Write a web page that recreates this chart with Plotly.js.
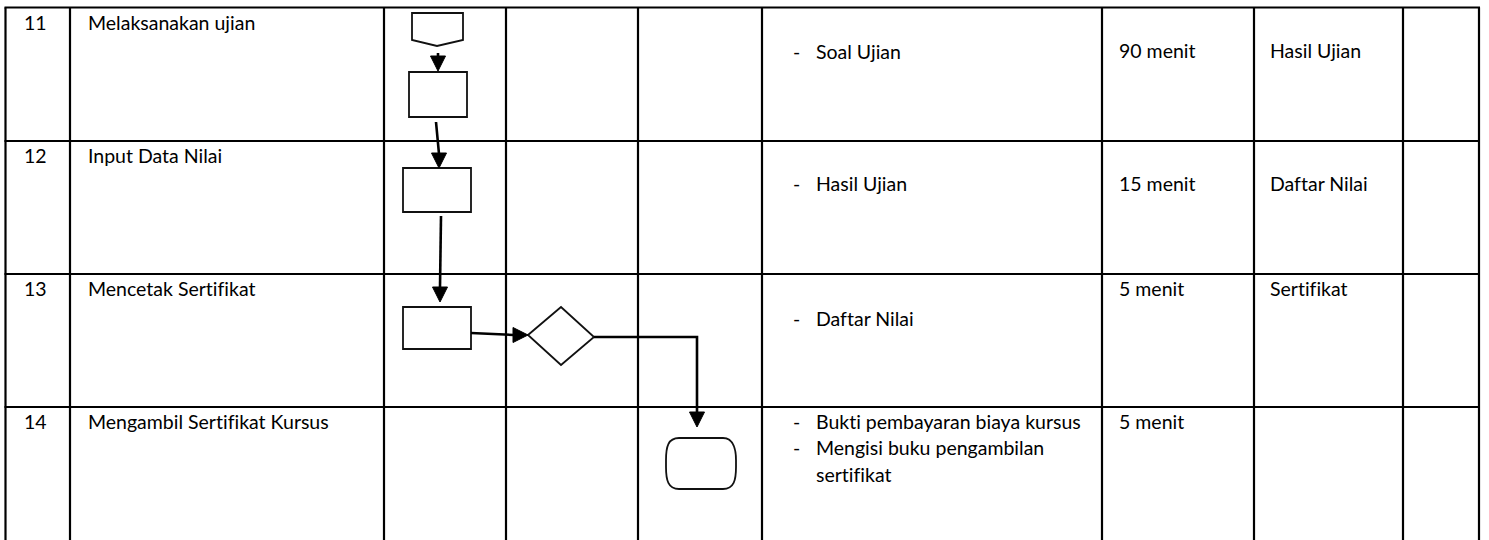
<!DOCTYPE html>
<html><head><meta charset="utf-8">
<script src="https://cdn.plot.ly/plotly-3.0.1.min.js"></script>
<style>html,body{margin:0;padding:0;background:#fff;overflow:hidden}#chart{width:1489px;height:540px}text{font-variant-ligatures:none;font-feature-settings:"liga" 0}</style>
</head><body><div id="chart"></div>
<script>
// ---------- DATA ----------
const stepNumbers = ['11', '12', '13', '14'];
const activities = ['Melaksanakan ujian', 'Input Data Nilai', 'Mencetak Sertifikat', 'Mengambil Sertifikat Kursus'];
const inputItems = [
  ['Soal Ujian'],
  ['Hasil Ujian'],
  ['Daftar Nilai'],
  ['Bukti pembayaran biaya kursus', 'Mengisi buku pengambilan<br>sertifikat']
];
const durations = ['90 menit', '15 menit', '5 menit', '5 menit'];
const outputs = ['Hasil Ujian', 'Daftar Nilai', 'Sertifikat', ''];
// flow nodes: step row index, swim-lane index, symbol type
const flowNodes = [
  {id: 'conn', row: 0, lane: 0, type: 'offpage'},
  {id: 'p11',  row: 0, lane: 0, type: 'process'},
  {id: 'p12',  row: 1, lane: 0, type: 'process'},
  {id: 'p13',  row: 2, lane: 0, type: 'process'},
  {id: 'd13',  row: 2, lane: 1, type: 'decision'},
  {id: 't14',  row: 3, lane: 2, type: 'terminator'}
];
const flowEdges = [['conn', 'p11'], ['p11', 'p12'], ['p12', 'p13'], ['p13', 'd13'], ['d13', 't14']];

// ---------- LAYOUT (positions / styles) ----------
const W = 1489, H = 540;
const colEdges = [5.5, 70, 384, 506, 638, 762, 1102, 1254, 1403, 1479];
const rowEdges = [7.5, 141, 274, 407, 560];
const FONT = {family: 'Lato, "Open Sans", sans-serif', size: 19.5, color: '#000'};
const GRID = {color: '#000', width: 2.2};
const LINE_STEP = 26.5;
// baseline offsets from row top
const baseFirst = [21.5, 21.5, 21.5, 21.5];
const baseInput = [50.5, 49, 51, 21];
const baseRight = [49.5, 49, 21, 21];
// node geometry relative to lane left / row top
const nodeGeom = {
  conn: {dx0: 28, dx1: 79, dy0: 5.5, dySide: 32.5, dyTip: 38.5, tipDx: 53},
  p11:  {dx0: 25, dx1: 83, dy0: 64.5, dy1: 109.5},
  p12:  {dx0: 19, dx1: 87, dy0: 27, dy1: 71},
  p13:  {dx0: 19, dx1: 87, dy0: 33, dy1: 75},
  d13:  {cx: 55, cy: 62, hw: 33, hh: 29},
  t14:  {dx0: 28, dx1: 98, dy0: 31, dy1: 82}
};
const laneX = i => colEdges[2 + i];
const rowY = i => rowEdges[i];

const shapes = [];
const annotations = [];
const lineColor = '#000';

// grid
colEdges.forEach(x => shapes.push({type: 'line', xref: 'x', yref: 'y', x0: x, x1: x, y0: rowEdges[0], y1: H + 5, line: GRID}));
rowEdges.slice(0, 4).forEach(y => shapes.push({type: 'line', xref: 'x', yref: 'y', x0: colEdges[0] - 1, x1: colEdges[colEdges.length - 1] + 1, y0: y, y1: y, line: GRID}));

// node shapes
const box = {};
flowNodes.forEach(n => {
  const g = nodeGeom[n.id], lx = laneX(n.lane), ty = rowY(n.row);
  let path;
  if (n.type === 'offpage') {
    const x0 = lx + g.dx0, x1 = lx + g.dx1, y0 = ty + g.dy0, ys = ty + g.dySide, yt = ty + g.dyTip, xt = lx + g.tipDx;
    path = `M${x0},${y0} L${x1},${y0} L${x1},${ys} L${xt},${yt} L${x0},${ys} Z`;
    box[n.id] = {x0, x1, y0, y1: yt, cx: xt, cy: (y0 + yt) / 2};
  } else if (n.type === 'process') {
    const x0 = lx + g.dx0, x1 = lx + g.dx1, y0 = ty + g.dy0, y1 = ty + g.dy1;
    path = `M${x0},${y0} L${x1},${y0} L${x1},${y1} L${x0},${y1} Z`;
    box[n.id] = {x0, x1, y0, y1, cx: (x0 + x1) / 2, cy: (y0 + y1) / 2};
  } else if (n.type === 'decision') {
    const cx = lx + g.cx, cy = ty + g.cy;
    path = `M${cx - g.hw},${cy - 1} L${cx},${cy - g.hh} L${cx + g.hw},${cy + 1} L${cx},${cy + g.hh} Z`;
    box[n.id] = {x0: cx - g.hw, x1: cx + g.hw, y0: cy - g.hh, y1: cy + g.hh, cx, cy};
  } else {
    const x0 = lx + g.dx0, x1 = lx + g.dx1, y0 = ty + g.dy0, y1 = ty + g.dy1, rx = 13, ry = 22;
    path = `M${x0 + rx},${y0} L${x1 - rx},${y0} C${x1 - 2},${y0} ${x1},${y0 + ry * 0.6} ${x1},${y0 + ry} L${x1},${y1 - ry} C${x1},${y1 - ry * 0.4} ${x1 - 2},${y1} ${x1 - rx},${y1} L${x0 + rx},${y1} C${x0 + 2},${y1} ${x0},${y1 - ry * 0.4} ${x0},${y1 - ry} L${x0},${y0 + ry} C${x0},${y0 + ry * 0.4} ${x0 + 2},${y0} ${x0 + rx},${y0} Z`;
    box[n.id] = {x0, x1, y0, y1, cx: (x0 + x1) / 2, cy: (y0 + y1) / 2};
  }
  shapes.push({type: 'path', xref: 'x', yref: 'y', path, line: {color: '#111', width: 1.8}, fillcolor: 'rgba(0,0,0,0)'});
});

// edges
const AH = 15, AW = 7.5;
function arrowHead(tx, ty, dir) {
  let p;
  if (dir === 'down') p = `M${tx},${ty} L${tx - AW},${ty - AH} L${tx + AW},${ty - AH} Z`;
  else p = `M${tx},${ty} L${tx - AH},${ty - AW} L${tx - AH},${ty + AW} Z`;
  shapes.push({type: 'path', xref: 'x', yref: 'y', path: p, line: {color: lineColor, width: 1}, fillcolor: lineColor});
}
flowEdges.forEach(([a, b], i) => {
  const A = box[a], B = box[b];
  let pts, dir;
  if (i === 0) { pts = [[A.cx + 1, A.y1 + 7], [A.cx + 1, B.y0 - 1]]; dir = 'down'; }
  else if (i === 1) { pts = [[A.cx - 2, A.y1 + 5], [B.cx + 2, B.y0]]; dir = 'down'; }
  else if (i === 2) { pts = [[A.cx + 4, A.y1 + 4], [B.cx + 3, B.y0 - 5]]; dir = 'down'; }
  else if (i === 3) { pts = [[A.x1, (A.y0 + A.y1) / 2 + 5], [B.x0, B.cy - 1]]; dir = 'right'; }
  else { pts = [[A.x1, A.cy + 1], [B.cx - 4, A.cy + 1], [B.cx - 4, B.y0 - 11]]; dir = 'down'; }
  const last = pts[pts.length - 1];
  const lp = pts.map((p, k) => {
    if (k === pts.length - 1) return (dir === 'down' ? `L${p[0]},${p[1] - AH + 1}` : `L${p[0] - AH + 1},${p[1]}`);
    return (k === 0 ? 'M' : 'L') + `${p[0]},${p[1]}`;
  }).join(' ');
  shapes.push({type: 'path', xref: 'x', yref: 'y', path: lp, line: {color: lineColor, width: 2.6}, fillcolor: 'rgba(0,0,0,0)'});
  arrowHead(last[0], last[1], dir);
});

// text
const asc = 0.99 * FONT.size + 1;
function txt(x, baseline, text) {
  annotations.push({x, y: baseline - asc, xref: 'x', yref: 'y', xanchor: 'left', yanchor: 'top', text, showarrow: false, align: 'left', font: FONT, borderpad: 1});
}
stepNumbers.forEach((s, r) => {
  txt(colEdges[0] + 16.5, rowY(r) + baseFirst[r], s);
  txt(colEdges[1] + 16, rowY(r) + baseFirst[r], activities[r]);
  let lineOff = 0;
  inputItems[r].forEach(item => {
    txt(colEdges[5] + 29, rowY(r) + baseInput[r] + lineOff, '-');
    item.split('<br>').forEach(part => {
      txt(colEdges[5] + 52, rowY(r) + baseInput[r] + lineOff, part);
      lineOff += LINE_STEP;
    });
  });
  txt(colEdges[6] + 15, rowY(r) + baseRight[r], durations[r]);
  if (outputs[r]) txt(colEdges[7] + 14, rowY(r) + baseRight[r], outputs[r]);
});

Plotly.newPlot('chart', [{x: [0], y: [0], mode: 'markers', marker: {opacity: 0}, hoverinfo: 'skip', showlegend: false}], {
  width: W, height: H,
  margin: {l: 0, r: 0, t: 0, b: 0},
  paper_bgcolor: '#fff', plot_bgcolor: '#fff',
  xaxis: {range: [0, W], visible: false, fixedrange: true},
  yaxis: {range: [H, 0], visible: false, fixedrange: true},
  showlegend: false,
  shapes, annotations
}, {staticPlot: true, displayModeBar: false});
</script></body></html>
